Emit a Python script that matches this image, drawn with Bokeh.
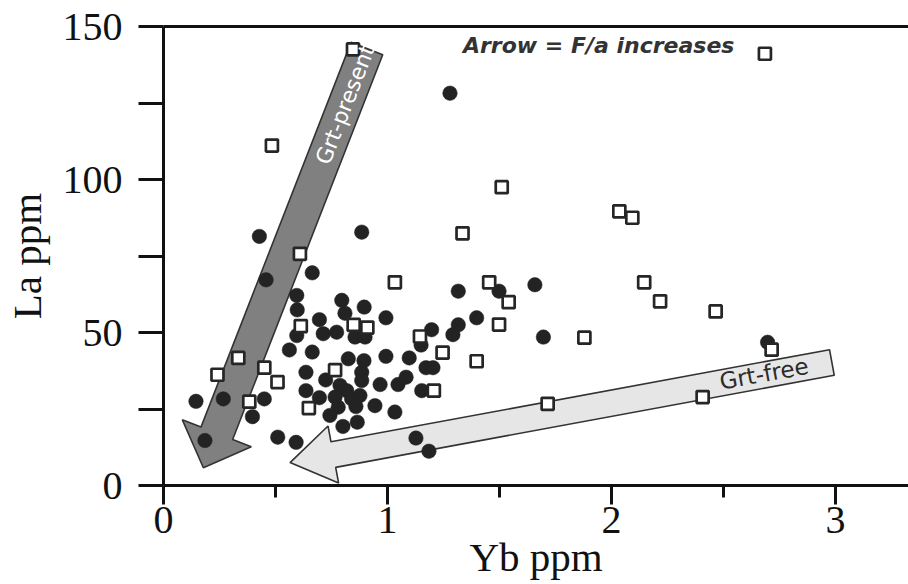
import numpy as np
from bokeh.plotting import figure
from bokeh.models import Range1d, FixedTicker, LinearAxis, Label
from bokeh.embed import file_html
from bokeh.resources import INLINE
from bokeh.core.properties import value

# ---- data ----
# filled circles
dot_yb = [1.279, 0.428, 0.885, 0.664, 0.458, 0.595, 0.597, 0.796, 0.896, 0.810,
          0.993, 0.696, 0.713, 0.773, 0.855, 0.900, 0.595, 0.562, 0.664, 0.825,
          0.895, 0.993, 1.097, 1.150, 1.172, 1.203, 0.636, 0.724, 0.885, 0.885,
          0.967, 1.047, 1.083, 0.788, 0.818, 0.636, 0.696, 0.766, 0.840, 0.877,
          0.780, 0.859, 0.944, 1.033, 0.743, 0.801, 0.865, 1.153, 1.197, 1.292,
          0.267, 0.450, 0.145, 0.397, 0.185, 0.510, 0.592, 1.316, 1.498, 1.658,
          1.398, 1.316, 1.696, 2.697, 1.127, 1.185]
dot_la = [128.2, 81.4, 82.8, 69.5, 67.2, 62.1, 57.4, 60.5, 58.3, 56.3,
          54.8, 54.2, 49.6, 50.1, 48.5, 48.5, 49.0, 44.3, 43.6, 41.4,
          40.8, 42.2, 41.7, 45.9, 38.5, 38.5, 37.0, 34.5, 37.0, 34.3,
          33.0, 33.0, 35.4, 32.7, 31.0, 31.0, 28.7, 28.9, 28.3, 29.4,
          25.6, 25.8, 26.1, 24.0, 22.9, 19.3, 20.7, 31.0, 50.9, 49.3,
          28.3, 28.3, 27.5, 22.5, 14.7, 15.8, 14.1, 63.5, 63.5, 65.6,
          54.8, 52.5, 48.5, 46.8, 15.5, 11.2]
# open squares
sq_yb = [0.846, 0.484, 2.685, 1.510, 1.335, 2.035, 2.093, 0.609, 1.033, 1.454,
         1.541, 1.498, 1.145, 1.246, 1.398, 1.207, 1.879, 2.146, 2.217, 2.465,
         2.715, 1.715, 2.407, 0.613, 0.849, 0.910, 0.766, 0.334, 0.450, 0.241,
         0.509, 0.383, 0.649]
sq_la = [142.5, 111.1, 141.1, 97.5, 82.4, 89.6, 87.5, 75.7, 66.4, 66.4,
         59.9, 52.6, 48.7, 43.4, 40.6, 31.0, 48.3, 66.4, 60.2, 56.9,
         44.4, 26.7, 28.9, 52.1, 52.5, 51.6, 37.7, 41.7, 38.5, 36.2,
         33.8, 27.4, 25.3]
x_ticks = [0, 1, 2, 3]
x_minor = [0.5, 1.5, 2.5]
y_ticks = [0, 50, 100, 150]
y_minor = [25, 75, 125]

# ---- layout ----
W, H = 908, 584
LEFT, TOP, BOTTOM = 163, 26, 99
FW, FH = W - LEFT, H - TOP - BOTTOM
XMAX, YMAX = 3.326, 150
SX, SY = FW / XMAX, FH / YMAX

p = figure(width=W, height=H, x_range=Range1d(0, XMAX), y_range=Range1d(0, YMAX),
           output_backend="svg", toolbar_location=None,
           min_border_left=LEFT, min_border_right=0, min_border_top=TOP,
           min_border_bottom=BOTTOM)
p.grid.visible = False
p.outline_line_color = None
p.background_fill_color = "white"
p.border_fill_color = "white"

INK = "#111111"
xa = p.xaxis[0]
xa.ticker = FixedTicker(ticks=x_ticks, minor_ticks=x_minor)
ya = p.yaxis[0]
ya.ticker = FixedTicker(ticks=y_ticks, minor_ticks=y_minor)
for ax in (xa, ya):
    ax.axis_line_width = 3
    ax.axis_line_color = INK
    ax.major_tick_line_width = 3
    ax.minor_tick_line_width = 3
    ax.major_tick_line_color = INK
    ax.minor_tick_line_color = INK
    ax.major_tick_in = 0
    ax.minor_tick_in = 0
    ax.major_label_text_font = "Liberation Serif"
    ax.major_label_text_font_size = "40px"
    ax.major_label_text_color = INK
    ax.axis_label_text_font = "Liberation Serif"
    ax.axis_label_text_font_size = "41px"
    ax.axis_label_text_font_style = "normal"
    ax.axis_label_text_color = INK

xa.major_tick_out = 19
xa.minor_tick_out = 12
xa.major_label_standoff = 2
xa.axis_label = "Yb ppm"
xa.axis_label_standoff = -2

ya.major_tick_out = 25
ya.minor_tick_out = 25
ya.major_label_standoff = 16
ya.axis_label = "La ppm"
ya.axis_label_standoff = 10

top = LinearAxis(ticker=FixedTicker(ticks=[]), major_label_text_font_size="0px",
                 axis_line_width=3, axis_line_color=INK,
                 major_tick_line_color=None, minor_tick_line_color=None)
p.add_layout(top, "above")
p.min_border_top = TOP


def arrow(tail, tip, shaft_w, head_w, head_len):
    t = np.array([tail[0] * SX, tail[1] * SY])
    h = np.array([tip[0] * SX, tip[1] * SY])
    u = (h - t) / np.linalg.norm(h - t)
    n = np.array([-u[1], u[0]])
    b = h - u * head_len
    pts = [t + n * shaft_w / 2, b + n * shaft_w / 2, b + n * head_w / 2, h,
           b - n * head_w / 2, b - n * shaft_w / 2, t - n * shaft_w / 2]
    return [q[0] / SX for q in pts], [q[1] / SY for q in pts]


# arrows (annotation shapes, behind the points)
ax1, ay1 = arrow((0.908, 142.8), (0.178, 5.8), 34, 74, 37)
p.patch(ax1, ay1, fill_color="#808080", line_color="#333333", line_width=1.6)
ax2, ay2 = arrow((2.984, 40.2), (0.565, 7.5), 26, 58, 44)
p.patch(ax2, ay2, fill_color="#e6e6e6", line_color="#333333", line_width=1.6)

p.add_layout(Label(x=0.811, y=124.5, text="Grt-present", angle=np.radians(68.7),
                   text_font="DejaVu Sans", text_font_size="22px", text_color="white",
                   text_align="center", text_baseline="middle"))
p.add_layout(Label(x=2.681, y=36.5, text="Grt-free", angle=np.radians(10.4),
                   text_font="DejaVu Sans", text_font_size="23px", text_color="#2b2b2b",
                   text_align="center", text_baseline="middle"))
p.add_layout(Label(x=1.337, y=143.8, text="Arrow = F/a increases",
                   text_font="DejaVu Sans", text_font_size="22px", text_color="#333333",
                   text_font_style="bold italic", text_align="left", text_baseline="middle"))

p.scatter(dot_yb, dot_la, marker="circle", size=14.5, fill_color="#232323",
          line_color="#232323", line_width=0.5)
p.scatter(sq_yb, sq_la, marker="square", size=12, fill_color="white",
          line_color="#262626", line_width=2.7)

open("out.html", "w").write(file_html(p, INLINE))
